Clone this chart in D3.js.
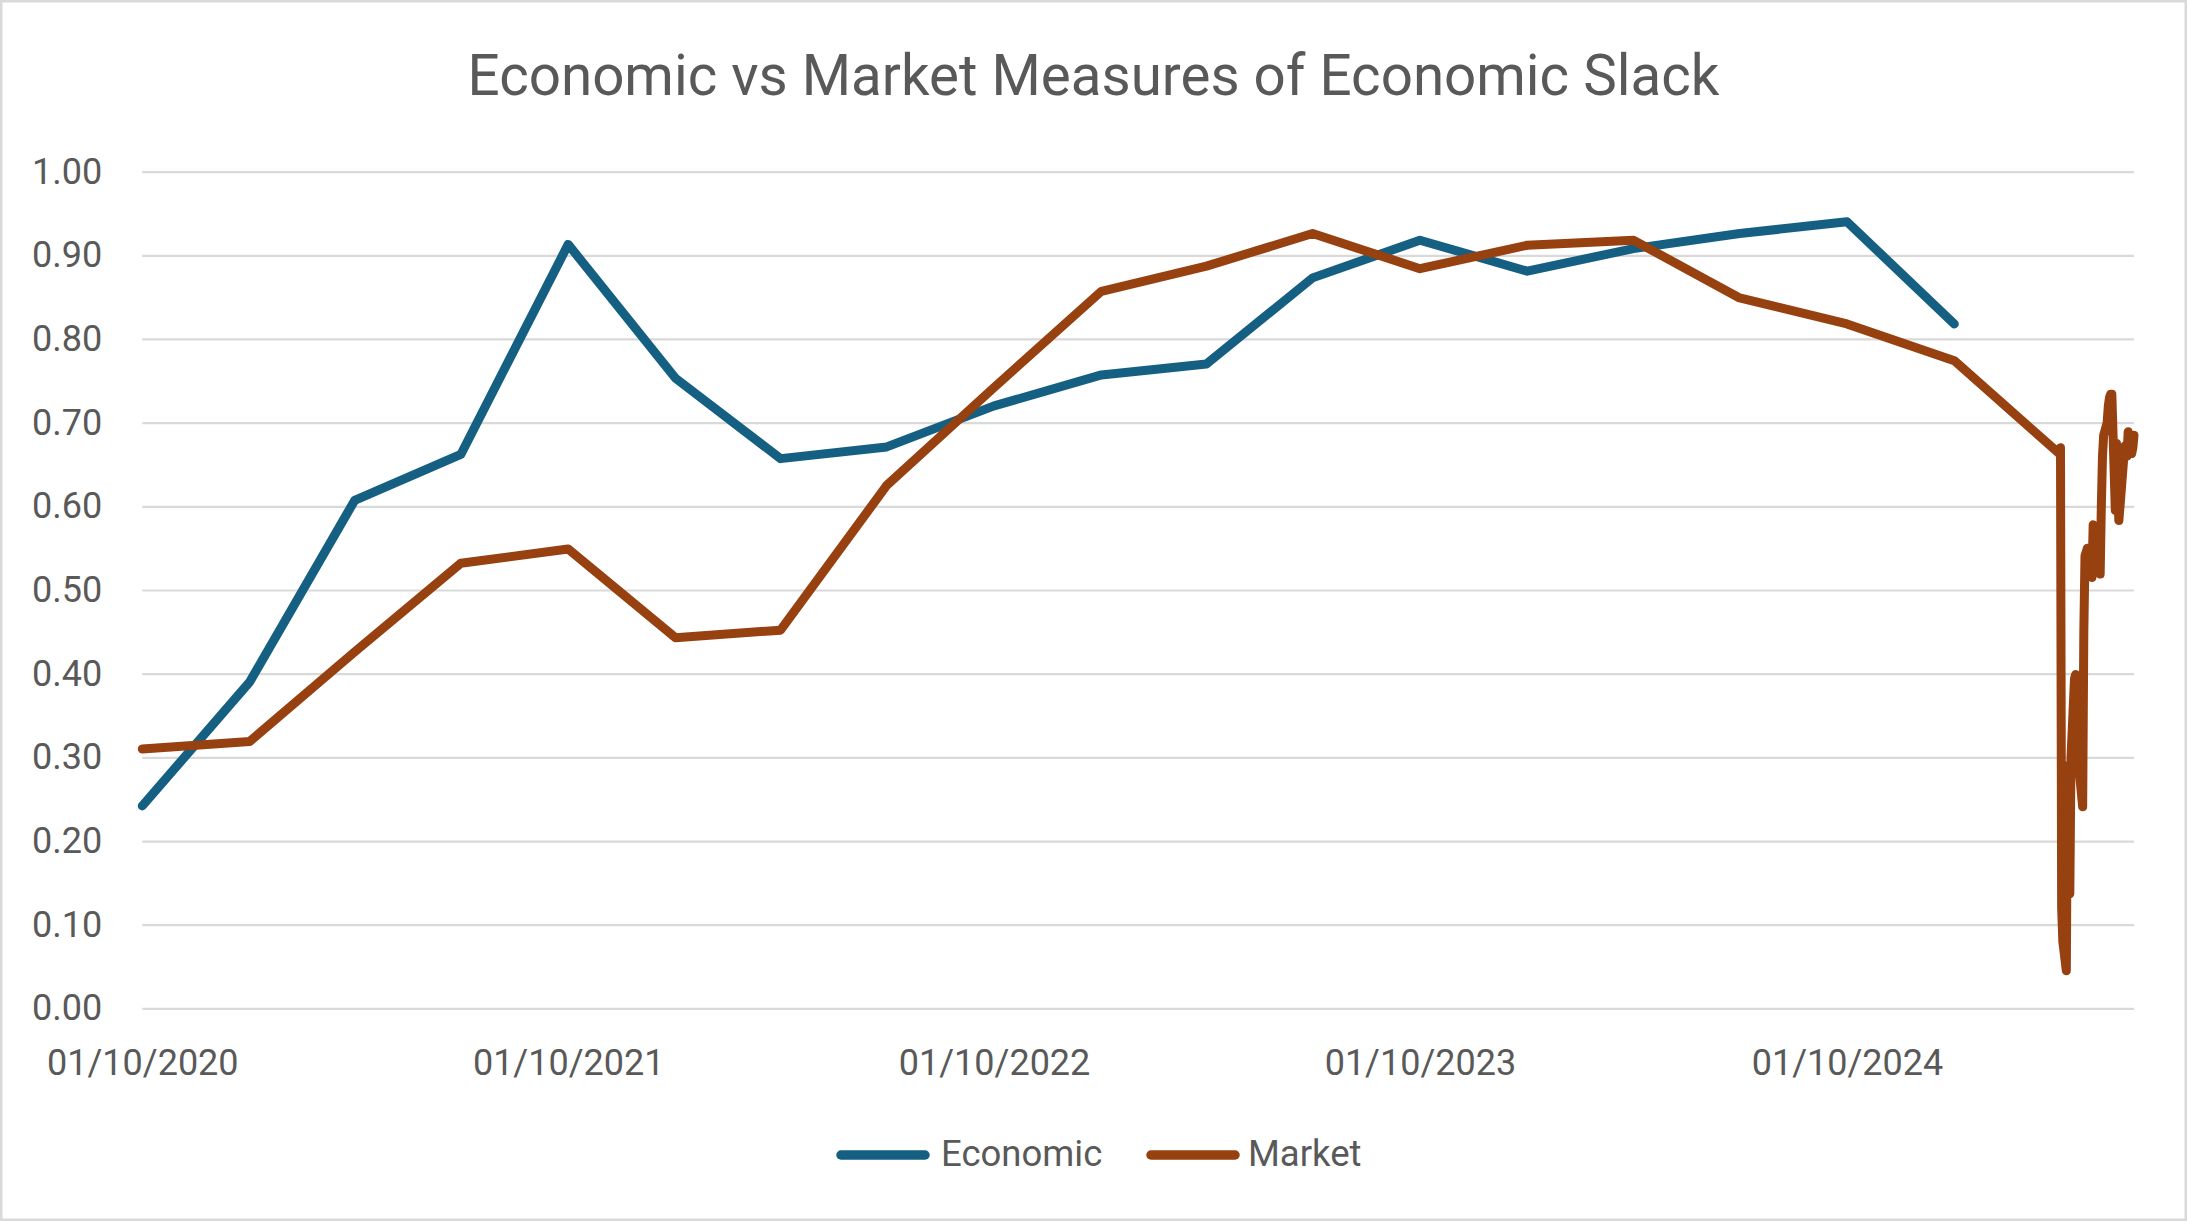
<!DOCTYPE html>
<html>
<head>
<meta charset="utf-8">
<script src="https://cdn.jsdelivr.net/npm/d3@7"></script>
<style>
  html, body { margin: 0; padding: 0; background: #fff; }
  svg { display: block; }
  text { font-family: Roboto, "Liberation Sans", sans-serif; fill: #595959; }
</style>
</head>
<body>
<svg id="chart" width="2187" height="1222"></svg>
<script>
const title = "Economic vs Market Measures of Economic Slack";
const seriesNames = ["Economic", "Market"];
const seriesColors = ["#156082", "#974010"];

const quarterDates = ["2020-10-01","2021-01-01","2021-04-01","2021-07-01","2021-10-01","2022-01-01","2022-04-01","2022-07-01","2022-10-01","2023-01-01","2023-04-01","2023-07-01","2023-10-01","2024-01-01","2024-04-01","2024-07-01","2024-10-01","2025-01-01"];
const economicValues = [0.242,0.390,0.607,0.662,0.913,0.753,0.657,0.671,0.720,0.757,0.770,0.873,0.918,0.881,0.908,0.926,0.940,0.818];
const marketQuarterValues = [0.310,0.319,0.426,0.532,0.549,0.443,0.452,0.625,0.742,0.857,0.887,0.926,0.884,0.912,0.918,0.849,0.818,0.774];

const marketDailyDates = ["2025-04-01","2025-04-02","2025-04-03","2025-04-04","2025-04-07","2025-04-08","2025-04-09","2025-04-10","2025-04-11","2025-04-14","2025-04-15","2025-04-16","2025-04-17","2025-04-21","2025-04-22","2025-04-23","2025-04-24","2025-04-25","2025-04-28","2025-04-29","2025-04-30","2025-05-01","2025-05-02","2025-05-05","2025-05-06","2025-05-07","2025-05-08","2025-05-09","2025-05-12","2025-05-13","2025-05-14","2025-05-15","2025-05-16","2025-05-19","2025-05-20","2025-05-21","2025-05-22","2025-05-23","2025-05-27","2025-05-28","2025-05-29","2025-05-30","2025-06-02","2025-06-03","2025-06-04"];
const marketDailyValues = [0.663,0.670,0.120,0.080,0.045,0.290,0.210,0.137,0.300,0.394,0.399,0.350,0.300,0.241,0.450,0.541,0.545,0.550,0.530,0.515,0.578,0.575,0.575,0.550,0.519,0.600,0.660,0.685,0.700,0.720,0.730,0.734,0.734,0.595,0.675,0.620,0.583,0.600,0.672,0.660,0.660,0.689,0.663,0.670,0.685];

const yTicks = [0,0.1,0.2,0.3,0.4,0.5,0.6,0.7,0.8,0.9,1.0];
const xTickDates = ["2020-10-01","2021-10-01","2022-10-01","2023-10-01","2024-10-01"];
const xDomain = ["2020-10-01","2025-06-04"];

const parse = d3.utcParse("%Y-%m-%d");
const fmtX = d3.utcFormat("%d/%m/%Y");

const W = 2187, H = 1222;
const svg = d3.select("#chart");

// chart border
svg.append("rect").attr("x",1.25).attr("y",1.25).attr("width",W-2.5).attr("height",H-3.5)
  .attr("fill","#fff").attr("stroke","#d9d9d9").attr("stroke-width",2.5);

const plot = {left:142.3, right:2134, top:171.6, bottom:1008.4};

const x = d3.scaleUtc().domain(xDomain.map(parse)).range([plot.left, plot.right]);
const y = d3.scaleLinear().domain([0,1]).range([plot.bottom, plot.top]);

// title
svg.append("text").attr("x", W/2).attr("y", 95).attr("text-anchor","middle")
  .style("font-size","56.5px").text(title);

// gridlines + y labels
const yAxis = d3.axisLeft(y).tickValues(yTicks).tickSize(-(plot.right-plot.left)).tickPadding(40)
  .tickFormat(d3.format(".2f"));
const gy = svg.append("g").attr("transform",`translate(${plot.left},0)`).call(yAxis);
gy.select(".domain").remove();
gy.selectAll(".tick line").attr("stroke","#d9d9d9").attr("stroke-width",2.2);
gy.selectAll(".tick text").style("font-size","36px").attr("fill","#595959");

const xAxis = d3.axisBottom(x).tickValues(xTickDates.map(parse)).tickSize(0).tickPadding(0).tickFormat(fmtX);
const gx = svg.append("g").attr("transform",`translate(0,${plot.bottom})`).call(xAxis);
gx.select(".domain").remove();
gx.selectAll(".tick text").attr("dy",null).attr("y",67).style("font-size","36px").attr("fill","#595959");

// series
const economic = quarterDates.map((d,i)=>({date:parse(d), value:economicValues[i]}));
const market = quarterDates.map((d,i)=>({date:parse(d), value:marketQuarterValues[i]}))
  .concat(marketDailyDates.map((d,i)=>({date:parse(d), value:marketDailyValues[i]})));

const line = d3.line().x(d=>x(d.date)).y(d=>y(d.value));

[economic, market].forEach((data,i)=>{
  svg.append("path").datum(data).attr("d",line)
    .attr("fill","none").attr("stroke",seriesColors[i]).attr("stroke-width",9)
    .attr("stroke-linejoin","round").attr("stroke-linecap","round");
});

// legend
const legendItems = [{x:837, tx:941}, {x:1147, tx:1248}];
const lg = svg.append("g");
seriesNames.forEach((name,i)=>{
  const it = legendItems[i];
  lg.append("line").attr("x1",it.x+4).attr("x2",it.x+88).attr("y1",1155).attr("y2",1155)
    .attr("stroke",seriesColors[i]).attr("stroke-width",9.5).attr("stroke-linecap","round");
  lg.append("text").attr("x",it.tx).attr("y",1166).style("font-size","36.5px").text(name);
});
</script>
</body>
</html>
